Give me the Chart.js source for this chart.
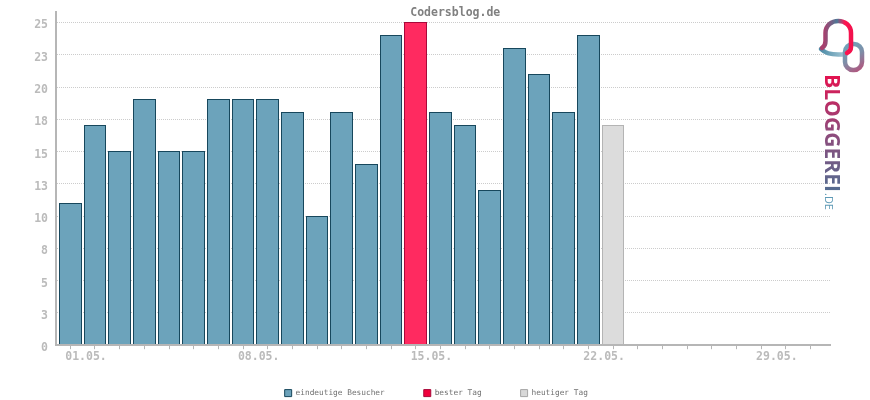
<!DOCTYPE html>
<html lang="de">
<head>
<meta charset="utf-8">
<title>Codersblog.de</title>
<script src="https://cdn.jsdelivr.net/npm/chart.js@4/dist/chart.umd.min.js"></script>
<style>html,body{margin:0;padding:0;background:#fff}canvas{display:block}</style>
</head>
<body>
<canvas id="c" width="870" height="400"></canvas>
<script>
const chartTitle = 'Codersblog.de';
const dayLabels = ['', '01.05.', '', '', '', '', '', '', '08.05.', '', '', '', '', '', '', '15.05.', '', '', '', '', '', '', '22.05.', '', '', '', '', '', '', '29.05.', ''];
const visitors = [11, 17, 15, 19, 15, 15, 19, 19, 19, 18, 10, 18, 14, 24, null, 18, 17, 12, 23, 21, 18, 24, null];
const bestDay = [null, null, null, null, null, null, null, null, null, null, null, null, null, null, 25];
const today = [null, null, null, null, null, null, null, null, null, null, null, null, null, null, null, null, null, null, null, null, null, null, 17];
const seriesNames = ['eindeutige Besucher', 'bester Tag', 'heutiger Tag'];
const legendFills = ['#6ca2ba', '#f0003c', '#d8d8d8'];
const legendBorders = ['#17475c', '#a8083a', '#a6a6a6'];
const yTickLabels = {0:'0',2.5:'3',5:'5',7.5:'8',10:'10',12.5:'13',15:'15',17.5:'18',20:'20',22.5:'23',25:'25'};

const toPoints = arr => arr.map((y, x) => ({x, y}));
const mono = '"DejaVu Sans Mono"';

const logoPlugin = {
  id: 'logo',
  afterLayout(chart) {
    chart.titleBlock.left += 40;
    chart.titleBlock.right += 40;
    chart.legend.left += 21;
    chart.legend.right += 21;
    chart.legend.top -= 20;
    chart.legend.bottom -= 20;
  },
  beforeDatasetsDraw(chart) {
    chart.getSortedVisibleDatasetMetas().forEach(meta => meta.data.forEach(el => {
      if (el.skip || !isFinite(el.x) || !isFinite(el.y)) return;
      const l = Math.round(el.x - el.width / 2);
      const r = Math.round(el.x + el.width / 2);
      el.x = (l + r) / 2;
      el.width = r - l;
      el.y = Math.floor(el.y);
    }));
  },
  afterDraw(chart) {
    const g = chart.ctx;
    g.save();
    g.lineCap = 'round';
    g.lineJoin = 'round';
    g.lineWidth = 4.5;
    const foot = g.createLinearGradient(820, 0, 846, 0);
    foot.addColorStop(0, '#4b8ba6'); foot.addColorStop(1, '#a5c8d6');
    g.strokeStyle = foot;
    g.beginPath(); g.moveTo(821, 49); g.bezierCurveTo(827, 55, 838, 55, 846, 54); g.stroke();
    const ring = g.createLinearGradient(845, 44, 862, 70);
    ring.addColorStop(0, '#6ea5bc'); ring.addColorStop(0.5, '#7d8ea8'); ring.addColorStop(1, '#b3537c');
    g.strokeStyle = ring;
    g.beginPath(); g.roundRect(845, 44, 17, 26, 8); g.stroke();
    const bell = g.createLinearGradient(824, 0, 853, 0);
    bell.addColorStop(0, '#a8406e'); bell.addColorStop(0.45, '#4d7897'); bell.addColorStop(0.72, '#ff1450'); bell.addColorStop(1, '#f0104c');
    g.strokeStyle = bell;
    g.beginPath();
    g.moveTo(822, 48); g.quadraticCurveTo(825.5, 46, 825.5, 41);
    g.lineTo(825.5, 33);
    g.bezierCurveTo(825.5, 17, 851, 17, 851, 33);
    g.lineTo(851, 47); g.quadraticCurveTo(851, 51, 847, 53);
    g.stroke();

    g.translate(824.5, 74);
    g.rotate(Math.PI / 2);
    g.textAlign = 'left';
    g.textBaseline = 'alphabetic';
    g.font = '700 20.5px "Open Sans"';
    const txt = 'BLOGGEREI';
    const w = g.measureText(txt).width;
    const sx = 118 / w;
    const grad = g.createLinearGradient(0, 0, 118, 0);
    grad.addColorStop(0, '#e6104e'); grad.addColorStop(0.45, '#94487a'); grad.addColorStop(1, '#4f6f92');
    g.save();
    g.scale(sx, 1);
    g.fillStyle = grad;
    g.fillText(txt, 0, 0);
    g.restore();
    g.font = '400 11px "Open Sans"';
    g.fillStyle = '#5e9ab6';
    g.fillText('.DE', 119, 0);
    g.restore();
  }
};

new Chart(document.getElementById('c'), {
  type: 'bar',
  data: {
    datasets: [
      {label: seriesNames[0], data: toPoints(visitors), backgroundColor: '#6ca3bb', borderColor: '#17475c'},
      {label: seriesNames[1], data: toPoints(bestDay), backgroundColor: '#ff2a60', borderColor: '#a8083a'},
      {label: seriesNames[2], data: toPoints(today), backgroundColor: '#dcdcdc', borderColor: '#b4b4b4'}
    ].map(d => Object.assign(d, {borderWidth: 1, inflateAmount: 0, grouped: false, barPercentage: 0.92, categoryPercentage: 1}))
  },
  plugins: [logoPlugin],
  options: {
    responsive: false,
    animation: false,
    devicePixelRatio: 1,
    layout: {padding: {left: 0, right: 39.5, top: 0, bottom: -27}},
    plugins: {
      tooltip: {enabled: false},
      title: {
        display: true, text: chartTitle, color: '#808080',
        font: {family: mono, size: 11.5, weight: 'bold', lineHeight: 1.2},
        padding: {top: 6, bottom: -7.8}
      },
      legend: {
        position: 'bottom',
        labels: {
          boxWidth: 7, boxHeight: 7, padding: 39, color: '#707070',
          font: {family: mono, size: 7.8},
          generateLabels: () => seriesNames.map((text, i) => ({
            text, fillStyle: legendFills[i], strokeStyle: legendBorders[i], lineWidth: 1,
            fontColor: '#707070', datasetIndex: i, hidden: false
          }))
        }
      }
    },
    scales: {
      x: {
        type: 'linear', min: -0.58, max: 30.81, offset: false,
        afterFit(s) { s.height = 25; s.paddingLeft = 0; s.paddingRight = 0; },
        border: {color: '#b6b6b6', width: 2, z: 1},
        grid: {offset: false, drawOnChartArea: false, drawTicks: true, tickLength: 4, tickWidth: 1, tickColor: '#b6b6b6', z: 1},
        ticks: {
          stepSize: 1, includeBounds: false, autoSkip: false, maxRotation: 0, minRotation: 0,
          labelOffset: -9, padding: 1, color: '#bbbbbb',
          font: {family: mono, size: 11.5, weight: 'bold'},
          callback: v => dayLabels[v] ?? ''
        }
      },
      y: {
        min: 0, max: 25.81,
        afterFit(s) { s.width = 56; s.paddingTop = 0; s.paddingBottom = 0; },
        border: {color: '#b6b6b6', width: 2, dash: [1, 1]},
        grid: {color: '#cccccc', lineWidth: 1, drawTicks: false},
        ticks: {
          stepSize: 2.5, includeBounds: false, autoSkip: false, padding: 8, labelOffset: 3, color: '#bbbbbb',
          font: {family: mono, size: 11.5, weight: 'bold'},
          callback: v => yTickLabels[v] ?? ''
        }
      }
    }
  }
});
</script>
</body>
</html>
